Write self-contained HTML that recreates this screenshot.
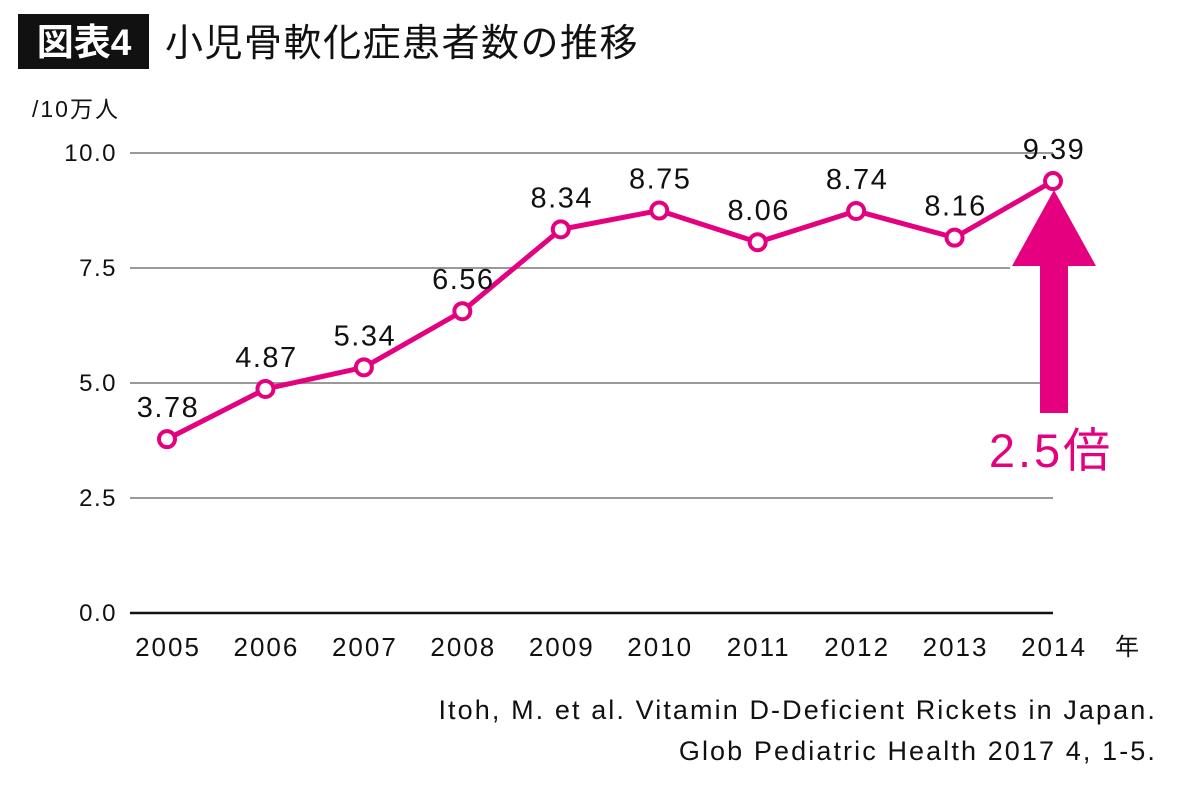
<!DOCTYPE html>
<html><head><meta charset="utf-8"><style>
body{margin:0;background:#fff;width:1200px;height:780px;overflow:hidden}
svg{font-family:"Liberation Sans","Noto Sans CJK JP",sans-serif}
</style></head><body>
<svg width="1200" height="780" id="chart">
<rect x="18" y="14" width="131" height="55" fill="#111"/>
<text x="84" y="55" fill="#fff" font-size="37" font-weight="bold" text-anchor="middle">図表4</text>
<text x="165" y="56" fill="#111" font-size="38" letter-spacing="1.5">小児骨軟化症患者数の推移</text>
<text x="32" y="117" fill="#111" font-size="23" letter-spacing="2">/10万人</text>
<g id="grid"></g>
<g id="arrow">
<polygon points="1054,190 1096,266 1068,266 1068,413 1040,413 1040,266 1012,266" fill="#e4007f"/>
</g>
<text x="1051" y="467" fill="#e4007f" font-size="47" letter-spacing="3" text-anchor="middle">2.5倍</text>
<g id="series"></g>
<text x="1127" y="655" fill="#111" font-size="24" text-anchor="middle">年</text>
<text x="1157" y="719" fill="#111" font-size="27" letter-spacing="2.1" text-anchor="end">Itoh, M. et al. Vitamin D-Deficient Rickets in Japan.</text>
<text x="1157" y="760" fill="#111" font-size="27" letter-spacing="2.1" text-anchor="end">Glob Pediatric Health 2017 4, 1-5.</text>
</svg>
<script>
const years=["2005","2006","2007","2008","2009","2010","2011","2012","2013","2014"];
const values=[3.78,4.87,5.34,6.56,8.34,8.75,8.06,8.74,8.16,9.39];
const labels=["3.78","4.87","5.34","6.56","8.34","8.75","8.06","8.74","8.16","9.39"];
const yTicks=[0,2.5,5,7.5,10];
const yTickLabels=["0.0","2.5","5.0","7.5","10.0"];
const NS="http://www.w3.org/2000/svg";
const x=i=>167+i*(1053-167)/(years.length-1);
const y=v=>613-v*46;
function mk(t,a,p){const e=document.createElementNS(NS,t);for(const k in a)e.setAttribute(k,a[k]);p.appendChild(e);return e;}
const grid=document.getElementById('grid');
yTicks.forEach((v,i)=>{
 const l=mk('line',{x1:130,x2:v===7.5?1010:1053,y1:y(v),y2:y(v),stroke:v===0?'#111':'#999','stroke-width':v===0?2.5:2},grid);
 
 
 const t=mk('text',{x:117,y:y(v)+8,'font-size':24,'letter-spacing':1.5,'text-anchor':'end',fill:'#111'},grid);
 t.textContent=yTickLabels[i];
 
 
});
years.forEach((yr,i)=>{
 const t=mk('text',{x:x(i)+1,y:656,'font-size':26,'letter-spacing':2,'text-anchor':'middle',fill:'#111'},grid);
 t.textContent=yr;
 
 
});
const s=document.getElementById('series');
const pl=mk('polyline',{points:values.map((v,i)=>x(i)+','+y(v)).join(' '),fill:'none',stroke:'#e4007f','stroke-width':5,'stroke-linejoin':'round'},s);


values.forEach((v,i)=>{
 const c=mk('circle',{cx:x(i),cy:y(v),r:8,fill:'#fff',stroke:'#e4007f','stroke-width':4},s);
 
 
 const t=mk('text',{x:x(i)+1,y:y(v)-22,'font-size':29,'letter-spacing':1.5,'text-anchor':'middle',fill:'#111'},s);
 t.textContent=labels[i];
 
 
});
</script>
</body></html>
